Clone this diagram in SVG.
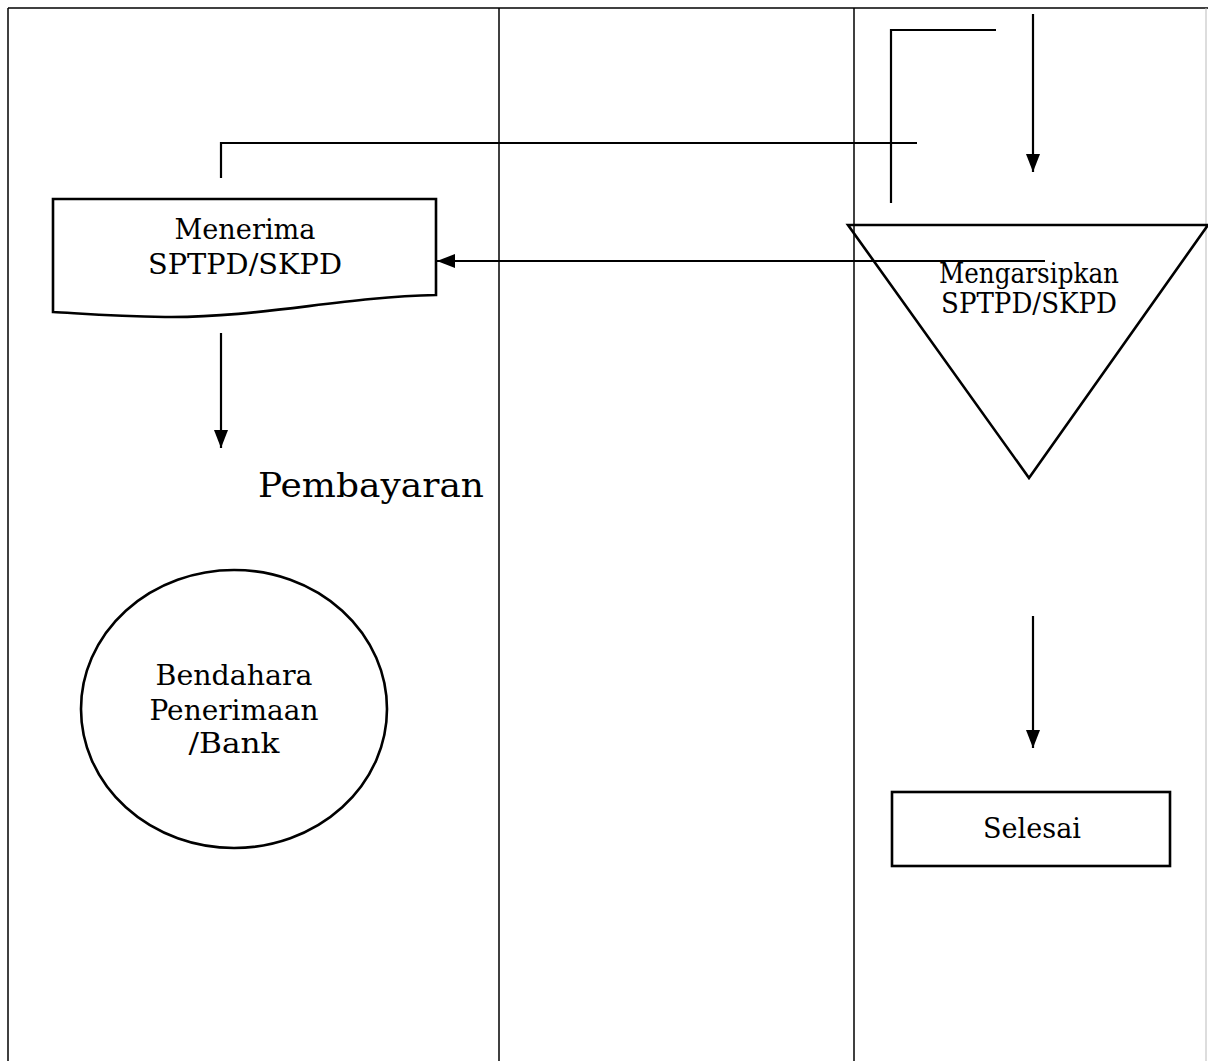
<svg xmlns="http://www.w3.org/2000/svg" width="1208" height="1061" viewBox="0 0 1208 1061">
<style>
.frame{fill:none;stroke:#000;stroke-width:1.5}
.shape{fill:none;stroke:#000;stroke-width:2.6}
.conn{fill:none;stroke:#000;stroke-width:2.2}
.t{font-family:"DejaVu Serif","Liberation Serif",serif;font-size:27px;fill:#000;text-anchor:middle}
</style>
<defs>
<marker id="ah" viewBox="0 0 18 14" refX="18" refY="7" markerWidth="18" markerHeight="14" markerUnits="userSpaceOnUse" orient="auto">
<path d="M0,0 L18,7 L0,14 Z" fill="#000"/>
</marker>
</defs>
<rect width="1208" height="1061" fill="#fff"/>
<g id="lanes">
<line class="frame" x1="8" y1="8" x2="1208" y2="8"/>
<line class="frame" x1="8" y1="8" x2="8" y2="1061"/>
<line class="frame" x1="499" y1="8" x2="499" y2="1061"/>
<line class="frame" x1="854" y1="8" x2="854" y2="1061"/>
<line x1="1206" y1="8" x2="1206" y2="1061" stroke="#bbb" stroke-width="1"/>
</g>
<g id="connectors">
<polyline class="conn" points="221,178 221,143 917,143"/>
<polyline class="conn" points="891,203 891,30 996,30"/>
<line class="conn" x1="1033" y1="14" x2="1033" y2="172" marker-end="url(#ah)"/>
<line class="conn" x1="1045" y1="261" x2="437" y2="261" marker-end="url(#ah)"/>
<line class="conn" x1="221" y1="333" x2="221" y2="448" marker-end="url(#ah)"/>
<line class="conn" x1="1033" y1="616" x2="1033" y2="748" marker-end="url(#ah)"/>
</g>
<g id="menerima">
<path class="shape" d="M53,199 H436 V295 C340,297 260,318 165,317 C110,316 75,313 53,312 Z"/>
<text class="t" x="245" y="239" textLength="141" lengthAdjust="spacingAndGlyphs">Menerima</text>
<text class="t" x="245" y="274" textLength="194" lengthAdjust="spacingAndGlyphs">SPTPD/SKPD</text>
</g>
<g id="mengarsipkan">
<polygon class="shape" points="848,225 1208,225 1029,478"/>
<text class="t" x="1029" y="283" textLength="180" lengthAdjust="spacingAndGlyphs">Mengarsipkan</text>
<text class="t" x="1029" y="313" textLength="176" lengthAdjust="spacingAndGlyphs">SPTPD/SKPD</text>
</g>
<g id="pembayaran">
<text class="t" x="371" y="497" style="font-size:34px" textLength="226" lengthAdjust="spacingAndGlyphs">Pembayaran</text>
</g>
<g id="bendahara">
<ellipse class="shape" cx="234" cy="709" rx="153" ry="139"/>
<text class="t" x="234" y="685" textLength="157" lengthAdjust="spacingAndGlyphs">Bendahara</text>
<text class="t" x="234" y="720" textLength="169" lengthAdjust="spacingAndGlyphs">Penerimaan</text>
<text class="t" x="234" y="753" textLength="91" lengthAdjust="spacingAndGlyphs">/Bank</text>
</g>
<g id="selesai">
<rect class="shape" x="892" y="792" width="278" height="74"/>
<text class="t" x="1032" y="838" textLength="98" lengthAdjust="spacingAndGlyphs">Selesai</text>
</g>
</svg>
